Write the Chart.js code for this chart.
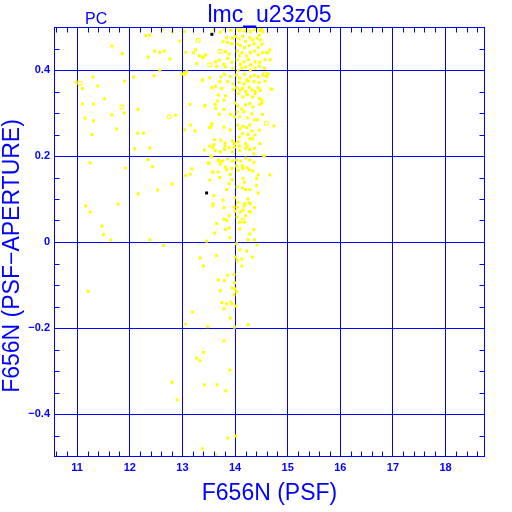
<!DOCTYPE html>
<html>
<head>
<meta charset="utf-8">
<script src="https://cdn.jsdelivr.net/npm/chart.js@4.4.1/dist/chart.umd.min.js"></script>
<style>
  html, body { margin: 0; padding: 0; background: #ffffff; }
</style>
</head>
<body>
<canvas id="psf-chart" width="512" height="512"></canvas>
<script>
// F656N (PSF) magnitude vs PSF - aperture difference
const psfMag = [
  10.98, 11.10, 11.30, 11.39, 11.10, 11.31, 11.52, 11.15, 11.31, 11.66, 11.28, 11.75, 11.66, 11.86, 11.25, 11.92,
  12.09, 12.38, 12.35, 12.43, 12.80, 12.53, 12.16, 11.78, 11.16, 11.25, 11.47, 11.50, 11.64, 12.38, 12.64, 11.21,
  12.30, 12.37, 12.81, 12.95, 13.04, 12.47, 12.57, 12.66, 12.35, 12.76, 13.06, 13.25, 13.21, 13.32, 13.40, 13.27,
  12.57, 12.46, 12.07, 11.90, 12.99, 13.05, 13.08, 13.38, 11.90, 12.16, 13.14, 13.42, 12.87, 13.15, 13.04, 13.24,
  12.15, 12.26, 13.04, 13.54, 13.60, 13.54, 13.70, 13.49, 13.42, 13.73, 13.06, 13.15, 13.18, 14.70, 14.74, 14.55,
  14.66, 14.62,
  13.61, 13.72, 13.80, 13.92, 14.04, 14.08, 14.11, 14.18, 14.25, 14.29, 14.37, 14.42, 14.47, 14.51, 14.53,
  13.84, 13.95, 14.01, 14.08, 14.15, 14.20, 14.28, 14.34, 14.42, 14.48, 14.46,
  13.77, 13.86, 13.94, 14.04, 14.10, 14.18, 14.27, 14.36, 14.44, 14.51,
  13.82, 13.89, 14.04, 14.08, 14.13, 14.22, 14.29, 14.37, 14.44, 14.52, 14.60, 13.38, 13.44,
  13.63, 13.70, 13.79, 13.86, 13.94, 14.04, 14.10, 14.17, 14.25, 14.30, 14.38, 14.47, 14.57, 14.67,
  13.65, 13.82, 13.96, 14.06, 14.13, 14.20, 14.29, 14.38, 14.46, 14.56,
  13.38, 13.52, 13.73, 13.80, 13.91, 14.03, 14.09, 14.18, 14.22, 14.29, 14.37, 14.44, 14.53, 14.60, 14.63,
  13.71, 13.86, 13.96, 14.08, 14.17, 14.25, 14.36, 14.46, 14.57,
  13.43, 13.56, 13.63, 13.75, 13.96, 14.03, 14.09, 14.14, 14.20, 14.27, 14.32, 14.38, 14.44, 14.48, 14.68,
  13.68, 13.82, 13.79, 14.06, 14.15, 14.23, 14.33, 14.38, 14.46, 14.51,
  13.62, 13.67, 13.63, 13.79, 14.00, 14.05, 14.13, 14.20, 14.28, 14.34, 14.47, 14.51,
  13.70, 13.91, 13.99, 14.04, 14.09, 14.17, 14.24, 14.32, 14.37, 14.43, 14.52,
  13.56, 13.52, 13.79, 13.91, 14.05, 14.09, 14.15, 14.22, 14.28, 14.32, 14.25, 14.14, 14.08, 14.46, 14.38, 14.34,
  13.61, 13.81, 13.95, 13.99, 14.06, 14.20, 14.28, 14.47,
  13.52, 13.58, 13.62, 13.72, 13.80, 13.81, 13.89, 13.95, 13.99, 14.08, 14.09, 14.20, 14.23, 14.28, 14.37, 14.36,
  13.56, 13.68, 13.76, 13.86, 13.95, 14.03, 14.11, 14.20, 14.28, 14.36, 14.55,
  13.51, 13.72, 13.82, 13.84, 13.94, 14.03, 14.06, 14.14, 14.15, 14.23, 14.27, 14.34, 14.44,
  13.58, 13.71, 13.91, 13.94, 13.89, 14.15, 14.18, 14.41, 14.66, 13.52, 13.57, 13.68,
  13.84, 14.04, 14.14, 14.20, 14.28, 14.41, 14.44,
  13.60, 13.77, 14.00, 14.05, 14.24, 14.27, 13.58, 14.18, 14.29,
  13.58, 13.79, 13.98, 14.00, 14.04, 14.10, 14.15, 14.17, 14.27, 14.29, 14.37,
  13.89, 14.04, 14.20, 13.65, 13.79, 13.84, 14.08, 14.18,
  13.89, 13.82, 14.09, 14.36, 13.61, 14.28, 13.90, 14.25, 14.37, 13.46,
  14.03, 14.42, 14.09, 14.22, 13.34, 13.65, 14.01, 14.04, 14.13, 14.33,
  14.13, 13.40, 13.86, 13.98, 13.68, 13.80, 13.99, 13.94, 14.00, 14.03, 13.72, 13.98,
  13.75, 13.84, 13.92, 13.94, 14.01, 13.79, 13.19, 13.91, 13.06, 13.48, 13.99, 14.25,
  13.79, 13.40, 13.27, 13.33, 13.90, 12.80, 13.42, 13.66, 13.82, 12.90, 14.01, 13.86, 13.38, 13.63
];
const psfMinusAper = [
  0.372, 0.357, 0.384, 0.363, 0.321, 0.321, 0.333, 0.288, 0.282, 0.296, 0.250, 0.263, 0.456, 0.438, 0.184, 0.172,
  0.217, 0.219, 0.192, 0.175, 0.135, 0.121, 0.112, 0.088, 0.084, 0.070, 0.037, 0.017, 0.005, 0.005, -0.008, -0.115,
  0.480, 0.481, 0.489, 0.467, 0.489, 0.444, 0.441, 0.444, 0.430, 0.426, 0.441, 0.447, 0.440, 0.433, 0.430, 0.415,
  0.398, 0.387, 0.384, 0.374, 0.391, 0.390, 0.396, 0.376, 0.300, 0.308, 0.320, 0.317, 0.295, 0.272, 0.261, 0.258,
  0.253, 0.253, 0.394, 0.268, 0.226, 0.200, 0.188, 0.184, 0.214, 0.237, 0.155, 0.158, 0.170, 0.355, 0.270, 0.200,
  0.447, 0.440,
  0.494, 0.488, 0.495, 0.492, 0.498, 0.491, 0.498, 0.491, 0.497, 0.489, 0.494, 0.498, 0.492, 0.497, 0.489,
  0.475, 0.474, 0.478, 0.472, 0.478, 0.467, 0.475, 0.470, 0.474, 0.470, 0.481,
  0.466, 0.464, 0.461, 0.461, 0.457, 0.452, 0.457, 0.461, 0.453, 0.460,
  0.443, 0.437, 0.444, 0.433, 0.440, 0.433, 0.441, 0.444, 0.435, 0.440, 0.441, 0.430, 0.435,
  0.419, 0.423, 0.413, 0.427, 0.418, 0.424, 0.413, 0.419, 0.424, 0.412, 0.419, 0.418, 0.424, 0.424,
  0.409, 0.407, 0.404, 0.398, 0.404, 0.407, 0.399, 0.405, 0.409, 0.404,
  0.377, 0.382, 0.384, 0.390, 0.385, 0.388, 0.381, 0.390, 0.377, 0.384, 0.388, 0.384, 0.388, 0.385, 0.391,
  0.373, 0.373, 0.368, 0.371, 0.368, 0.374, 0.373, 0.371, 0.374,
  0.317, 0.359, 0.362, 0.357, 0.354, 0.359, 0.353, 0.357, 0.350, 0.360, 0.354, 0.350, 0.359, 0.353, 0.356,
  0.342, 0.340, 0.330, 0.345, 0.337, 0.343, 0.337, 0.345, 0.334, 0.330,
  0.320, 0.328, 0.311, 0.308, 0.323, 0.316, 0.309, 0.319, 0.322, 0.314, 0.320, 0.323,
  0.297, 0.297, 0.291, 0.302, 0.291, 0.303, 0.289, 0.298, 0.284, 0.284, 0.297,
  0.275, 0.266, 0.267, 0.261, 0.272, 0.263, 0.269, 0.266, 0.272, 0.258, 0.250, 0.252, 0.244, 0.260, 0.249, 0.240,
  0.238, 0.230, 0.235, 0.229, 0.233, 0.229, 0.240, 0.229,
  0.223, 0.219, 0.212, 0.210, 0.215, 0.223, 0.219, 0.210, 0.221, 0.223, 0.213, 0.218, 0.223, 0.215, 0.218, 0.205,
  0.198, 0.191, 0.188, 0.193, 0.188, 0.191, 0.188, 0.195, 0.191, 0.185, 0.201,
  0.182, 0.181, 0.174, 0.168, 0.171, 0.177, 0.167, 0.177, 0.171, 0.173, 0.168, 0.165, 0.156,
  0.162, 0.150, 0.157, 0.145, 0.136, 0.148, 0.139, 0.148, 0.156, 0.144, 0.163, 0.163,
  0.122, 0.128, 0.126, 0.122, 0.122, 0.131, 0.114,
  0.108, 0.097, 0.103, 0.092, 0.100, 0.091, 0.089, 0.089, 0.089,
  0.084, 0.080, 0.081, 0.072, 0.081, 0.070, 0.074, 0.084, 0.070, 0.070, 0.080,
  0.061, 0.058, 0.061, 0.043, 0.053, 0.050, 0.046, 0.046,
  0.033, 0.029, 0.030, 0.029, 0.021, 0.019, 0.010, 0.005, 0.005, 0.002,
  -0.004, -0.007, -0.018, -0.021, -0.037, -0.032, -0.035, -0.043, -0.040, -0.035,
  -0.056, -0.056, -0.077, -0.076, -0.088, -0.090, -0.095, -0.107, -0.109, -0.116, -0.113, -0.123,
  -0.141, -0.144, -0.140, -0.144, -0.149, -0.155, -0.163, -0.177, -0.191, -0.197, -0.198, -0.192,
  -0.230, -0.257, -0.270, -0.276, -0.298, -0.326, -0.332, -0.332, -0.346, -0.367, -0.451, -0.456, -0.481, -0.495
];

// stars drawn as open squares
const openMag = [11.05, 12.61, 13.30, 11.85, 12.75, 14.56, 14.60, 13.72, 13.52, 14.15];
const openDiff = [0.369, 0.498, 0.469, 0.314, 0.291, 0.391, 0.276, 0.443, 0.412, 0.050];

// the two black points
const blackMag = [13.46, 13.56];
const blackDiff = [0.114, 0.483];

const xTickValues = [11, 12, 13, 14, 15, 16, 17, 18];
const yTickValues = [-0.4, -0.2, 0, 0.2, 0.4];
const yTickLabels = ['\u22120.4', '\u22120.2', '0', '0.2', '0.4'];

const blue = '#0000ff';
const yellow = '#ffff00';

function toPoints(xs, ys) {
  return xs.map((x, i) => ({ x: x, y: ys[i] }));
}

// inward minor ticks, plot frame and the texts around the plot
const decorations = {
  id: 'decorations',
  afterDraw(chart) {
    const ctx = chart.ctx;
    const area = chart.chartArea;
    const xs = chart.scales.x;
    const ys = chart.scales.y;
    const left = Math.round(area.left) + 0.5;
    const right = Math.round(area.right) - 0.5;
    const top = Math.round(area.top) + 0.5;
    const bottom = Math.round(area.bottom) - 0.5;
    const len = 5;

    ctx.save();
    ctx.strokeStyle = blue;
    ctx.lineWidth = 1;
    ctx.beginPath();
    for (let k = 53; k <= 93; k++) {
      if (k % 5 === 0) continue;
      const px = Math.round(xs.getPixelForValue(k / 5)) + 0.5;
      ctx.moveTo(px, bottom); ctx.lineTo(px, bottom - len);
      ctx.moveTo(px, top); ctx.lineTo(px, top + len);
    }
    for (let k = -9; k <= 9; k++) {
      if (k % 4 === 0) continue;
      const py = Math.round(ys.getPixelForValue(k / 20)) + 0.5;
      ctx.moveTo(left, py); ctx.lineTo(left + len, py);
      ctx.moveTo(right, py); ctx.lineTo(right - len, py);
    }
    ctx.stroke();
    ctx.strokeRect(left, top, right - left, bottom - top);

    ctx.fillStyle = blue;
    ctx.textBaseline = 'alphabetic';
    ctx.textAlign = 'center';
    ctx.font = '23px "Liberation Sans"';
    ctx.fillText('lmc_u23z05', (area.left + area.right) / 2, 22);
    ctx.fillText('F656N (PSF)', (area.left + area.right) / 2, 500);
    ctx.font = '16px "Liberation Sans"';
    ctx.textAlign = 'left';
    ctx.fillText('PC', 85, 24);

    ctx.translate(19, 256);
    ctx.rotate(-Math.PI / 2);
    ctx.textAlign = 'center';
    ctx.font = '23px "Liberation Sans"';
    ctx.fillText('F656N (PSF\u2212APERTURE)', 0, 0);
    ctx.restore();
  }
};

const tickFont = { family: 'Liberation Sans', size: 11, weight: 'bold' };

new Chart(document.getElementById('psf-chart'), {
  type: 'scatter',
  data: {
    datasets: [
      {
        data: toPoints(psfMag, psfMinusAper),
        pointStyle: 'rect',
        pointRadius: 2.1,
        backgroundColor: yellow,
        borderWidth: 0
      },
      {
        data: toPoints(openMag, openDiff),
        pointStyle: 'rect',
        pointRadius: 2.6,
        backgroundColor: 'rgba(0,0,0,0)',
        borderColor: yellow,
        borderWidth: 1
      },
      {
        data: toPoints(blackMag, blackDiff),
        pointStyle: 'rect',
        pointRadius: 2.1,
        backgroundColor: '#000000',
        borderWidth: 0
      }
    ]
  },
  options: {
    responsive: false,
    animation: false,
    layout: { padding: { left: 0, top: 27, right: 27, bottom: 0 } },
    plugins: {
      legend: { display: false },
      tooltip: { enabled: false }
    },
    scales: {
      x: {
        type: 'linear',
        min: 10.56,
        max: 18.75,
        afterBuildTicks: axis => { axis.ticks = xTickValues.map(v => ({ value: v })); },
        afterFit: axis => { axis.height = 55; },
        ticks: { color: blue, font: tickFont, padding: 4, maxRotation: 0, callback: v => String(v) },
        grid: { color: blue, lineWidth: 1, drawTicks: false },
        border: { display: false }
      },
      y: {
        type: 'linear',
        min: -0.5,
        max: 0.5,
        afterBuildTicks: axis => { axis.ticks = yTickValues.map(v => ({ value: v })); },
        afterFit: axis => { axis.width = 54; },
        ticks: { color: blue, font: tickFont, padding: 4, callback: (v, i) => yTickLabels[i] },
        grid: { color: blue, lineWidth: 1, drawTicks: false },
        border: { display: false }
      }
    }
  },
  plugins: [decorations]
});
</script>
</body>
</html>
